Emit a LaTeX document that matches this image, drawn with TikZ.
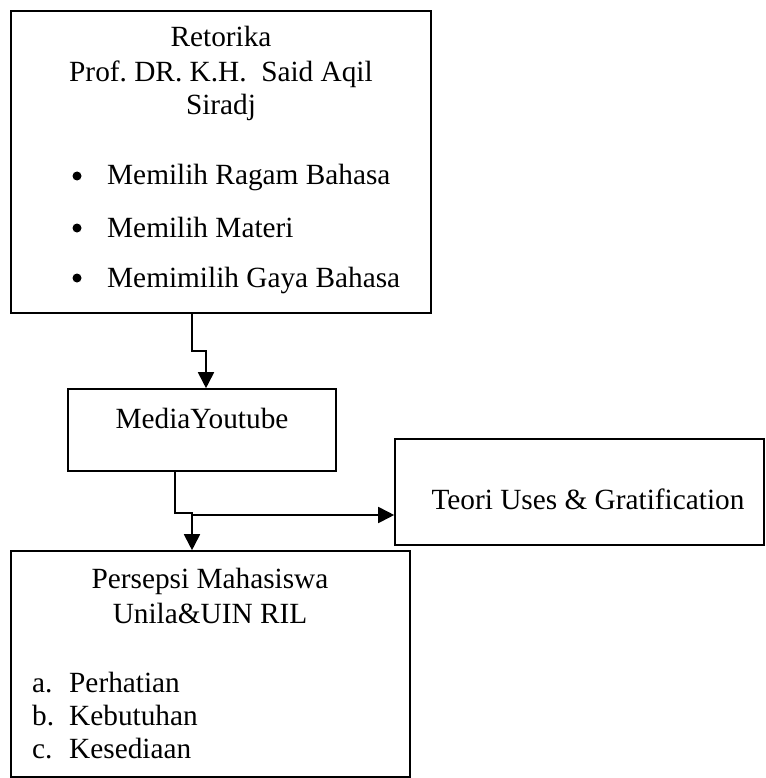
\documentclass[tikz,border=0pt]{standalone}
\usepackage{fontspec}
\setmainfont{Liberation Serif}
\usetikzlibrary{arrows.meta}
\tikzset{
  box/.style={draw, line width=1.6pt, rectangle, inner sep=0pt},
  txt/.style={inner sep=0pt, font=\fontsize{29.3}{35}\selectfont},
  dot/.style={circle, fill, inner sep=0pt, minimum size=9pt},
  conn/.style={line width=1.8pt},
  arr/.style={conn, -{Triangle[width=16pt,length=16pt]}}
}
\begin{document}
\frenchspacing
\begin{tikzpicture}[x=1pt,y=-1pt]
\useasboundingbox (0,0) rectangle (765,778);
% boxes
\node[box, minimum width=420pt, minimum height=302pt] (top) at (221,162) {};
\node[box, minimum width=268pt, minimum height=82pt] (media) at (202,430) {};
\node[box, minimum width=369pt, minimum height=106pt] (teori) at (579.5,492) {};
\node[box, minimum width=399pt, minimum height=226pt] (pers) at (210.5,664) {};
% top box text
\node[txt, anchor=base] (t1) at (221,47) {Retorika};
\node[txt, anchor=base] (t2) at (221,82) {Prof. DR. K.H.\ \ Said Aqil};
\node[txt, anchor=base] (t3) at (221,115) {Siradj};
\node[dot] (b1) at (77,176) {};
\node[dot] (b2) at (77,228) {};
\node[dot] (b3) at (77,278) {};
\node[txt, anchor=base west] (i1) at (107,185) {Memilih Ragam Bahasa};
\node[txt, anchor=base west] (i2) at (107,237) {Memilih Materi};
\node[txt, anchor=base west] (i3) at (107,287) {Memimilih Gaya Bahasa};
% media text
\node[txt, anchor=base] (m1) at (202,428) {MediaYoutube};
% teori text
\node[txt, anchor=base] (g1) at (588,509) {Teori Uses \& Gratification};
% persepsi text
\node[txt, anchor=base] (p1) at (210,588) {Persepsi Mahasiswa};
\node[txt, anchor=base] (p2) at (210,623) {Unila\&UIN RIL};
\node[txt, anchor=base west] (la) at (32,692) {a.};
\node[txt, anchor=base west] (lb) at (32,725) {b.};
\node[txt, anchor=base west] (lc) at (32,758) {c.};
\node[txt, anchor=base west] (pa) at (69,692) {Perhatian};
\node[txt, anchor=base west] (pb) at (69,725) {Kebutuhan};
\node[txt, anchor=base west] (pc) at (69,758) {Kesediaan};
% connectors
\coordinate (j1) at (192,351);
\coordinate (j2) at (206,351);
\draw[arr] (top.south -| j1) -- (j1) -- (j2) -- (j2 |- media.north);
\coordinate (k1) at (175,513);
\coordinate (k2) at (192,513);
\coordinate (k3) at (193,515);
\draw[arr] (media.south -| k1) -- (k1) -- (k2) -- (k2 |- pers.north);
\draw[arr] (k3) -- (k3 -| teori.west);
\end{tikzpicture}
\end{document}
